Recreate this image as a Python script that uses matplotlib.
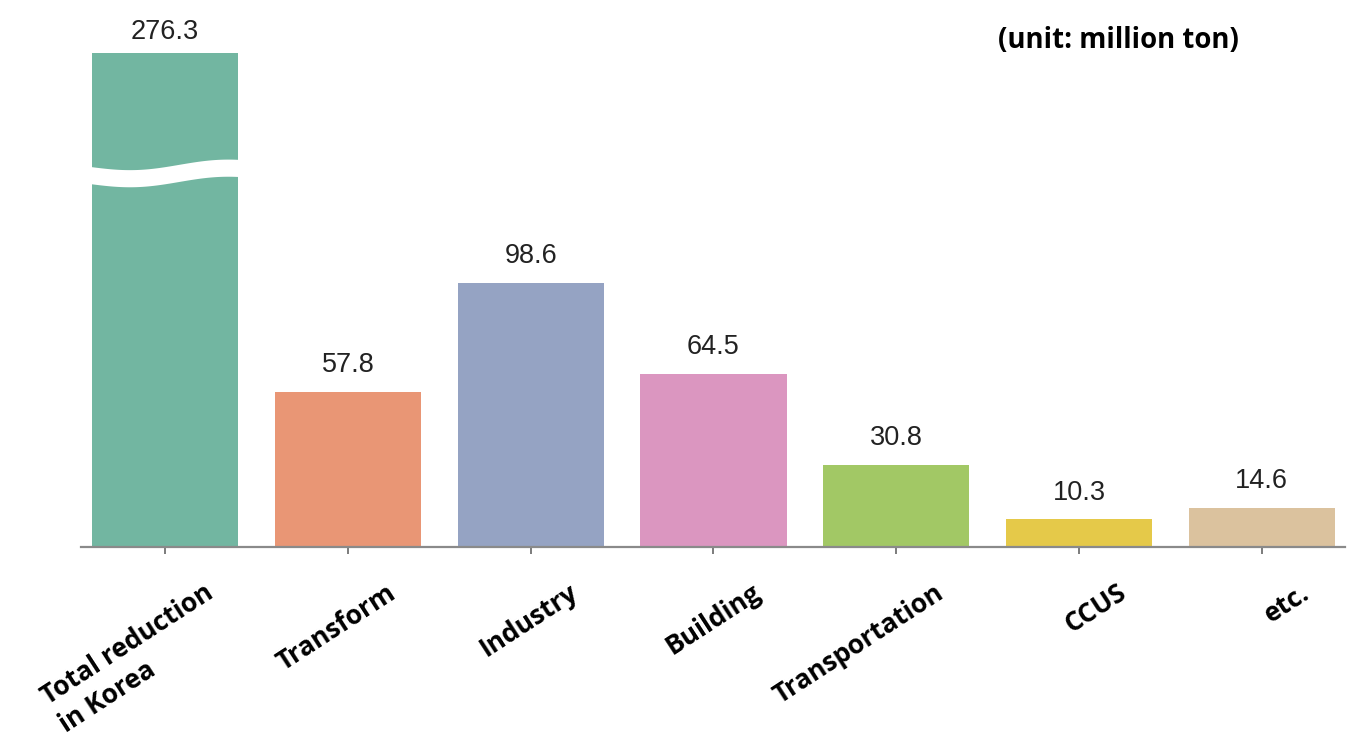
# ------------------------------------------------------------
# Imports
# ------------------------------------------------------------
import numpy as np
import matplotlib
matplotlib.use("Agg")
import matplotlib.pyplot as plt
import matplotlib.transforms as mtransforms
import seaborn as sns


# ------------------------------------------------------------
# Data
# ------------------------------------------------------------
categories = ["Total reduction\nin Korea", "Transform", "Industry", "Building",
              "Transportation", "CCUS", "etc."]
values = [276.3, 57.8, 98.6, 64.5, 30.8, 10.3, 14.6]
value_labels = ["276.3", "57.8", "98.6", "64.5", "30.8", "10.3", "14.6"]

# visible top of the y axis (the first bar is cut off here)
y_top = 184.5
# where the first bar gets its "broken" wave
break_level = 139.0


# ------------------------------------------------------------
# Plot
# ------------------------------------------------------------
colors = sns.color_palette("Set2", len(values), desat=0.75)

fig = plt.figure(figsize=(13.64, 7.55), dpi=100)
ax = fig.add_axes([0.0594, 0.2755, 0.9266, 0.6543])

x = np.arange(len(values))
ax.bar(x, values, width=0.8, color=colors, zorder=2)

ax.set_xlim(-0.46, 6.455)
ax.set_ylim(0, y_top)

# wavy white band on the truncated bar
wx = np.linspace(-0.42, 0.42, 200)
phase = (wx + 0.42) / 0.84
wave = -1.6 * np.sin(2 * np.pi * phase * 0.85) + 1.2 * phase
ax.fill_between(wx, break_level + wave - 3.2, break_level + wave + 3.2,
                color="white", zorder=3, lw=0)

# value labels (the cut-off bar gets its label a bit closer)
for xi, v, lab in zip(x, values, value_labels):
    off = 6 if v > y_top else 10
    ax.annotate(lab, (xi, min(v, y_top)), xytext=(0, off), textcoords="offset points",
                ha="center", va="bottom", fontsize=19.5,
                family="Liberation Sans", color="#222222", annotation_clip=False)

# axis styling
for side in ["top", "right", "left"]:
    ax.spines[side].set_visible(False)
ax.spines["bottom"].set_color("#8a8a8a")
ax.spines["bottom"].set_linewidth(1.6)
ax.set_yticks([])
ax.set_xticks(x)
ax.tick_params(axis="x", length=5, width=1.2, color="#666666", pad=18)
ax.set_xticklabels(categories, rotation=33, ha="right", va="top",
                   rotation_mode="anchor", multialignment="left",
                   fontsize=19, fontweight="bold", family="Open Sans",
                   linespacing=1.3)
shift = mtransforms.ScaledTranslation(38 / 100, 0, fig.dpi_scale_trans)
for tl in ax.get_xticklabels():
    tl.set_transform(tl.get_transform() + shift)

fig.text(0.732, 0.946, "(unit: million ton)", fontsize=19.8, fontweight="bold",
         family="Open Sans", ha="left", va="center")

plt.savefig("out.png", dpi=100)
